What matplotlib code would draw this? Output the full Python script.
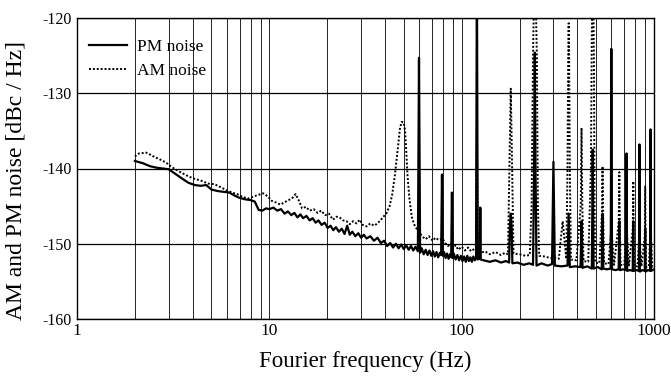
import matplotlib
matplotlib.use("Agg")
import matplotlib.pyplot as plt
from matplotlib.ticker import FixedLocator, FixedFormatter, LogLocator, NullFormatter

plt.rcParams['font.family'] = ['Liberation Serif', 'DejaVu Serif']
plt.rcParams['axes.unicode_minus'] = False

# ---------------- data ----------------
pm_freq = [2.0, 2.2, 2.4, 2.6, 2.8, 3.0, 3.2, 3.5, 3.8, 4.1, 4.4, 4.7, 5.0, 5.4, 5.8, 6.2, 6.6,
           7.0, 7.5, 8.0, 8.4, 8.8, 9.2, 9.6, 10.0, 10.5, 11.0, 11.5, 12.0, 12.5, 13.0, 13.5,
           14.0, 14.5, 15.0, 15.6, 16.2, 16.8, 17.4, 18.0, 18.7, 19.4, 20.1, 20.8, 21.5, 22.2,
           23.0, 23.8, 24.6, 25.4, 26.2, 27.0, 28.0, 29.0, 30.0, 31.0, 32.0, 33.5, 35.0, 36.5,
           38.0, 39.5, 41.0, 42.5, 44.0, 45.5, 47.0, 48.5, 50.0, 51.5, 53.0, 54.5, 56.0, 57.5,
           59.2, 60.0, 60.8, 62.0, 63.5, 65.0, 66.5, 68.0, 69.5, 71.0, 72.5, 74.0, 75.5, 77.0,
           78.2, 79.0, 79.8, 81.0, 82.5, 84.0, 85.5, 87.0, 88.2, 89.0, 89.8, 91.0, 93.0, 95.0,
           97.0, 99.0, 101, 103, 105, 107, 109, 111, 113, 115, 117, 118.8, 120, 121.2, 123,
           124.3, 125, 125.7, 130, 140, 150, 160, 170, 176.5, 178, 180, 182, 183.5, 195, 210,
           225, 235, 238, 240, 242, 245, 260, 280, 295, 298, 300, 302, 305, 330, 355, 360, 365,
           390, 415, 420, 425, 450, 475, 477, 480, 483, 485, 510, 535, 540, 545, 570, 595, 597,
           600, 603, 605, 630, 655, 660, 665, 690, 715, 720, 725, 750, 775, 780, 785, 810, 835,
           840, 845, 870, 895, 900, 905, 930, 955, 960, 965, 1000]
pm_db = [-139.0, -139.3, -139.7, -139.9, -140.0, -140.1, -140.6, -141.3, -141.9, -142.2, -142.3,
         -142.2, -142.8, -143.0, -143.1, -143.2, -143.6, -143.9, -144.1, -144.2, -144.4, -145.5,
         -145.6, -145.3, -145.4, -145.2, -145.6, -145.4, -146.0, -145.7, -146.2, -145.9, -146.5,
         -146.1, -146.6, -146.3, -146.9, -146.6, -147.2, -146.9, -147.5, -147.2, -147.9, -147.6,
         -148.2, -147.8, -148.4, -148.0, -148.7, -147.6, -148.8, -148.4, -149.0, -148.6, -149.2,
         -148.8, -149.3, -149.0, -149.6, -149.2, -149.9, -149.6, -150.3, -149.9, -150.5, -150.0,
         -150.6, -150.1, -150.7, -150.2, -150.8, -150.3, -150.9, -150.4, -151.0, -125.3, -151.2,
         -150.6, -151.4, -150.8, -151.5, -150.9, -151.6, -151.0, -151.7, -151.1, -151.8, -151.2,
         -151.5, -140.8, -151.6, -151.1, -151.9, -151.3, -152.0, -151.4, -151.8, -143.2, -151.9,
         -151.3, -152.1, -151.5, -152.2, -151.6, -152.3, -151.7, -152.4, -151.6, -152.3, -151.8,
         -152.4, -151.7, -152.2, -151.9, -112.0, -152.1, -151.9, -152.0, -145.2, -152.1, -152.2,
         -152.4, -152.2, -152.5, -152.3, -152.5, -148.0, -146.0, -148.0, -152.6, -152.5, -152.8,
         -152.6, -152.8, -140.0, -124.6, -140.0, -152.9, -152.6, -152.9, -152.7, -145.0, -139.1,
         -145.0, -152.9, -153.0, -152.9, -146.0, -153.1, -153.0, -153.1, -147.0, -153.2, -153.0,
         -153.3, -148.0, -137.5, -148.0, -153.3, -153.1, -153.4, -146.0, -153.3, -153.4, -153.3,
         -145.0, -124.1, -145.0, -153.4, -153.5, -153.4, -147.0, -153.5, -153.4, -153.5, -138.0,
         -153.6, -153.5, -153.6, -147.0, -153.6, -153.5, -153.6, -136.8, -153.7, -153.5, -153.6,
         -148.0, -153.7, -153.5, -153.6, -134.8, -153.6, -153.4]

am_freq = [2.0, 2.1, 2.3, 2.5, 2.7, 2.9, 3.1, 3.4, 3.7, 4.0, 4.4, 4.8, 5.2, 5.6, 6.0, 6.4, 6.8,
           7.3, 7.8, 8.3, 8.8, 9.3, 9.8, 10.3, 10.8, 11.4, 12.0, 12.6, 13.2, 13.7, 14.2, 14.8,
           15.5, 16.2, 17.0, 17.8, 18.6, 19.5, 20.4, 21.4, 22.4, 23.2, 24.2, 25.2, 26.2, 27.3,
           28.4, 29.5, 30.6, 32.0, 33.5, 35.0, 36.0, 37.5, 38.9, 40.5, 42.2, 43.5, 44.9, 46.5,
           47.8, 48.8, 50.0, 50.8, 51.6, 52.3, 53.5, 55.0, 56.5, 58.3, 60.5, 62.9, 65.0, 67.5,
           70.7, 73.0, 76.0, 79.6, 82.0, 85.0, 88.0, 90.0, 93.0, 96.0, 100, 104, 108, 112, 116,
           118.5, 120, 121.5, 126, 132, 140, 150, 160, 168, 174, 177, 180, 183, 186, 200, 215,
           226, 231, 235, 238, 242, 246, 249, 253, 270, 290, 300, 320, 335, 350, 355, 358, 360,
           362, 365, 370, 395, 416, 420, 424, 430, 455, 470, 475, 478, 483, 487, 491, 495, 520,
           536, 540, 544, 550, 580, 600, 620, 656, 660, 664, 670, 700, 720, 740, 776, 780, 784,
           790, 820, 840, 860, 896, 900, 904, 910, 940, 960, 980, 1000]
am_db = [-138.4, -138.0, -137.9, -138.4, -138.8, -139.2, -139.8, -140.4, -140.9, -141.3, -141.6,
         -142.0, -142.1, -142.5, -142.9, -143.2, -143.4, -143.8, -144.0, -143.7, -143.5, -143.3,
         -143.7, -144.3, -144.5, -144.8, -144.5, -144.2, -143.9, -143.4, -144.2, -145.3, -145.1,
         -145.6, -145.4, -145.9, -145.6, -146.2, -146.0, -146.8, -146.4, -146.5, -146.9, -147.0,
         -147.4, -147.0, -147.3, -146.8, -147.5, -147.7, -147.3, -147.6, -147.4, -147.0, -146.5,
         -146.0, -145.0, -143.5, -141.0, -137.5, -134.6, -133.8, -133.9, -135.0, -138.0, -141.0,
         -144.0, -146.4, -147.4, -148.0, -148.6, -149.1, -149.4, -149.0, -149.6, -149.2, -149.5,
         -149.3, -149.9, -150.3, -150.0, -150.6, -150.2, -150.8, -150.4, -150.9, -150.5, -151.0,
         -150.7, -150.9, -135.0, -151.0, -151.2, -151.0, -151.4, -151.1, -151.5, -151.2, -151.4,
         -140.0, -129.4, -140.0, -151.3, -151.4, -151.6, -151.5, -145.0, -125.0, -116.0, -116.0,
         -125.0, -145.0, -151.6, -151.7, -151.9, -151.8, -152.0, -147.0, -152.0, -140.0, -125.0,
         -120.7, -125.0, -140.0, -152.1, -152.2, -145.0, -134.6, -145.0, -152.3, -152.4, -140.0,
         -122.0, -116.0, -116.0, -125.0, -145.0, -152.5, -152.6, -146.0, -139.7, -146.0, -152.6,
         -152.7, -148.0, -152.8, -147.0, -140.5, -147.0, -152.8, -152.9, -148.0, -152.9, -148.0,
         -141.7, -148.0, -153.0, -153.0, -149.0, -153.0, -149.0, -142.4, -149.0, -153.1, -153.0,
         -148.0, -153.1, -153.0]

labels = ["PM noise", "AM noise"]
y_ticks = [-160, -150, -140, -130, -120]
x_ticks = [1, 10, 100, 1000]
x_tick_labels = ["1", "10", "100", "1000"]

# ---------------- figure ----------------
fig = plt.figure(figsize=(6.71, 3.79), dpi=100)
ax = fig.add_axes([77/671, 1 - 319/379, (654-77)/671, (319-18)/379])

ax.plot(pm_freq, pm_db, color="black", lw=1.6, ls="-", label=labels[0], zorder=3)
ax.plot(am_freq, am_db, color="black", lw=1.4, ls=(0, (1, 1)), label=labels[1], zorder=3)

ax.set_xscale("log")
ax.set_xlim(1, 1000)
ax.set_ylim(-160, -120)

ax.xaxis.set_major_locator(FixedLocator(x_ticks))
ax.xaxis.set_major_formatter(FixedFormatter(x_tick_labels))
ax.xaxis.set_minor_locator(LogLocator(base=10, subs=range(2, 10)))
ax.xaxis.set_minor_formatter(NullFormatter())
ax.set_yticks(y_ticks)
ax.set_yticklabels([str(v) for v in y_ticks])

ax.tick_params(axis="both", which="both", length=0)
ax.tick_params(axis="x", labelsize=12.5, pad=3)
ax.tick_params(axis="y", labelsize=11.5, pad=4)

ax.grid(True, axis="x", which="both", color="black", lw=0.6, zorder=1)
ax.grid(True, axis="y", which="major", color="black", lw=0.9, zorder=1)
for s in ax.spines.values():
    s.set_linewidth(1.0)
    s.set_color("black")

ax.set_xlabel("Fourier frequency (Hz)", fontsize=16.5)
ax.set_ylabel("AM and PM noise [dBc / Hz]", fontsize=17)
ax.xaxis.set_label_coords(0.5, -0.105)
ax.yaxis.set_label_coords(-0.088, 0.46)

leg = ax.legend(loc="upper left", frameon=False, fontsize=12.5, handlelength=2.2,
                handletextpad=0.6, labelspacing=0.5, borderaxespad=0.0,
                bbox_to_anchor=(0.008, 0.955))

fig.savefig("out.png", dpi=100)
